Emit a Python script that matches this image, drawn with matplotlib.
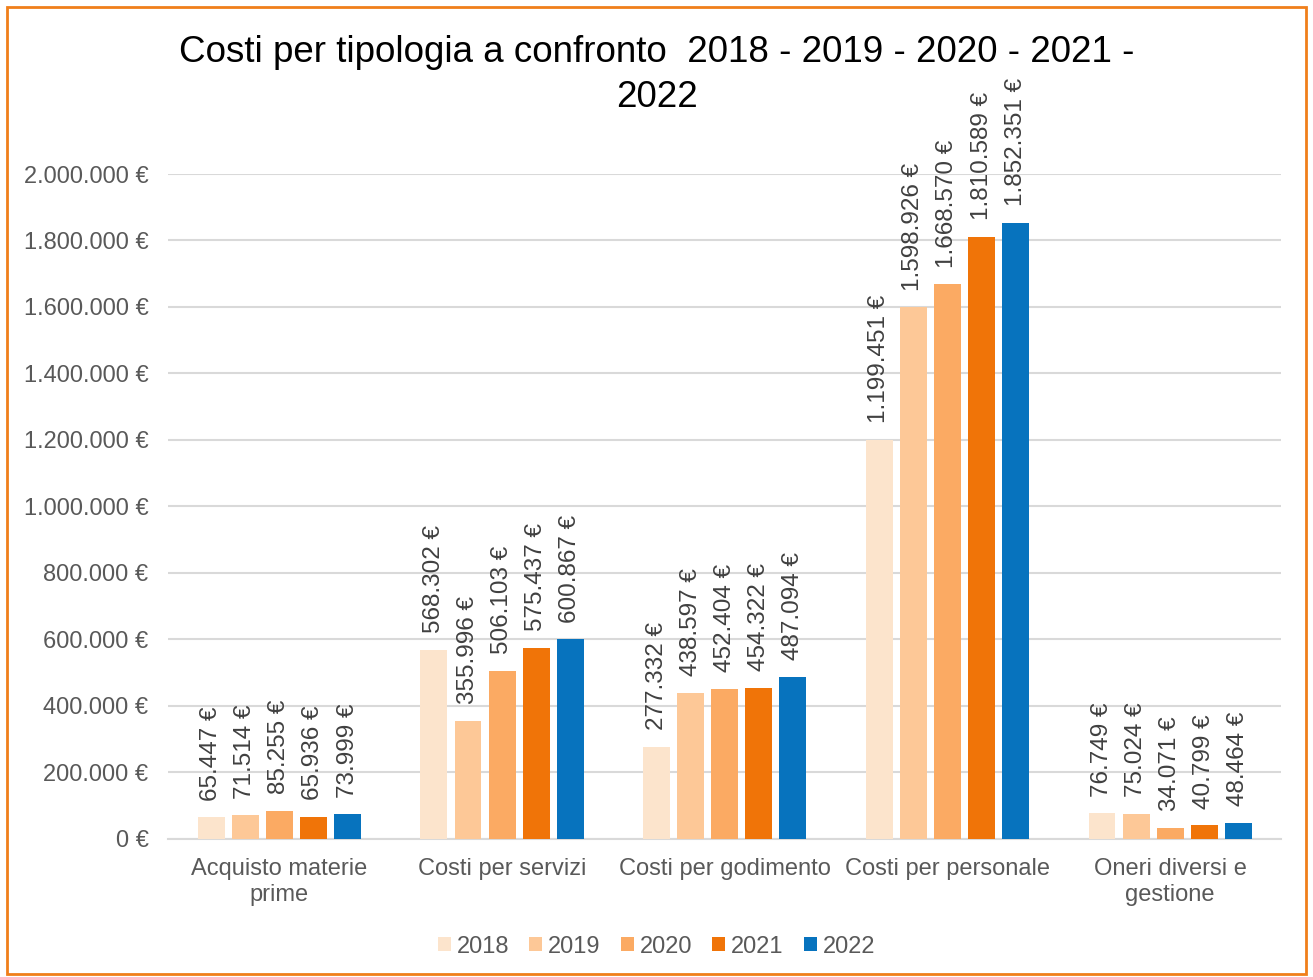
import numpy as np
import matplotlib
matplotlib.use("Agg")
import matplotlib.pyplot as plt
from matplotlib.patches import Rectangle
from matplotlib.ticker import FuncFormatter

plt.rcParams['font.family'] = ['Liberation Sans', 'DejaVu Sans']

# data
categories = ["Acquisto materie\nprime", "Costi per servizi", "Costi per godimento",
              "Costi per personale", "Oneri diversi e\ngestione"]
years = ["2018", "2019", "2020", "2021", "2022"]
costs_2018 = [65447, 568302, 277332, 1199451, 76749]
costs_2019 = [71514, 355996, 438597, 1598926, 75024]
costs_2020 = [85255, 506103, 452404, 1668570, 34071]
costs_2021 = [65936, 575437, 454322, 1810589, 40799]
costs_2022 = [73999, 600867, 487094, 1852351, 48464]
series = [costs_2018, costs_2019, costs_2020, costs_2021, costs_2022]
colors = ["#FCE4CC", "#FDC897", "#FBAA63", "#F07408", "#0773BE"]


def euro(v):
    # italian thousands separator
    return f"{int(round(v)):,}".replace(",", ".") + " €"


fig = plt.figure(figsize=(13.13, 9.77), dpi=100)
ax = fig.add_axes([0.128, 0.1413, 0.848, 0.6806])

x = np.arange(len(categories))
step = 0.153
width = 0.121
for i, (year, vals) in enumerate(zip(years, series)):
    pos = x + (i - 2) * step
    bars = ax.bar(pos, vals, width, color=colors[i], label=year, zorder=3)
    for b, v in zip(bars, vals):
        ax.annotate(euro(v), (b.get_x() + b.get_width() / 2, v),
                    xytext=(0, 12), textcoords="offset points",
                    rotation=90, ha="center", va="bottom",
                    fontsize=17.5, color="#404040", clip_on=False)

ax.set_xlim(-0.5, len(categories) - 0.5)
ax.set_ylim(0, 2000000)
ax.set_yticks(np.arange(0, 2000001, 200000))
ax.yaxis.set_major_formatter(FuncFormatter(lambda v, p: euro(v)))
ax.set_xticks(x)
ax.set_xticklabels(categories)
ax.tick_params(axis="both", length=0, labelsize=17, labelcolor="#595959")
ax.tick_params(axis="x", pad=14)
ax.tick_params(axis="y", pad=14)
ax.grid(axis="y", color="#D9D9D9", linewidth=1.5, zorder=0)
for s in ["top", "right", "left"]:
    ax.spines[s].set_visible(False)
ax.spines["bottom"].set_color("#D9D9D9")
ax.spines["bottom"].set_linewidth(1.5)

# title on two lines, as in the original (wrapped)
fig.text(0.5, 0.946, "Costi per tipologia a confronto  2018 - 2019 - 2020 - 2021 -",
         ha="center", va="center", fontsize=26.5, color="black")
fig.text(0.5, 0.900, "2022", ha="center", va="center", fontsize=26.5, color="black")

ax.legend(loc="center", bbox_to_anchor=(0.5, 0.031), bbox_transform=fig.transFigure,
          ncol=5, frameon=False, fontsize=17, labelcolor="#595959",
          handlelength=0.55, handleheight=0.55, handletextpad=0.25, columnspacing=0.85)

fig.patches.append(Rectangle((0.005, 0.003), 0.99, 0.99, transform=fig.transFigure,
                             fill=False, edgecolor="#F07F1A", linewidth=2))

fig.savefig("out.png", dpi=100)
